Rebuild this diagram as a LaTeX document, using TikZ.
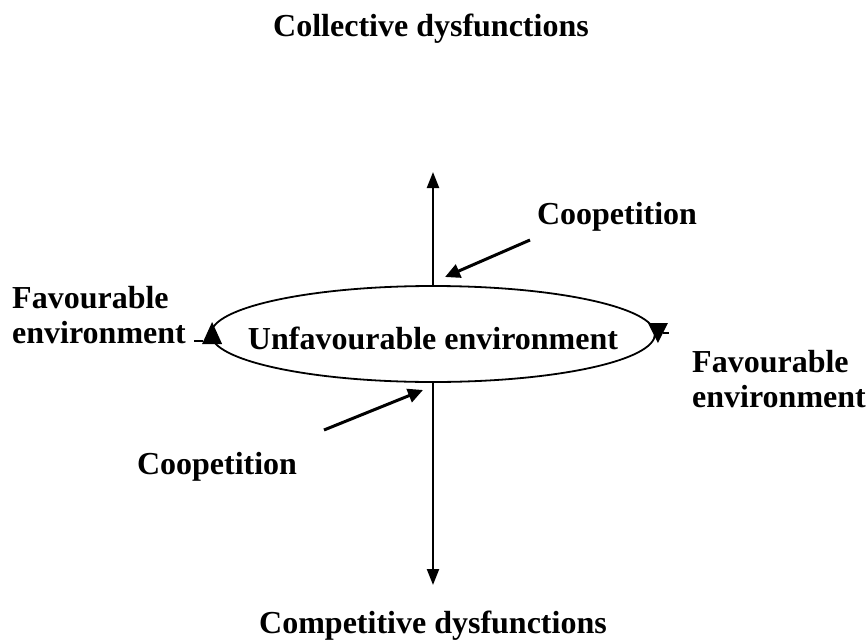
\documentclass[tikz,border=0pt]{standalone}
\usepackage{fontspec}
\setmainfont{Liberation Serif}
\usetikzlibrary{arrows.meta, shapes.geometric, positioning}

\begin{document}
\begin{tikzpicture}[x=1pt, y=-1pt,
    label/.style={font=\fontsize{32}{35}\selectfont\bfseries, inner sep=0pt},
    envellipse/.style={draw, ellipse, line width=1.8pt, minimum width=444pt, minimum height=96pt, inner sep=0pt},
    axisarrow/.style={line width=2.2pt, -{Triangle[length=16pt,width=12pt]}},
    cooparrow/.style={line width=3pt, -{Triangle[length=15pt,width=14pt]}},
    turnhead/.style={fill=black},
    turntick/.style={line width=1.4pt}
]
    \useasboundingbox (0,0) rectangle (867,642);

    \node[envellipse, name=env] at(433,334) {};
    \node[label, anchor=base, name=unfav] at(433,349) {Unfavourable environment};

    \node[label, anchor=base, name=collective] at(431,37) {Collective dysfunctions};
    \node[label, anchor=base, name=competitive] at(433,633) {Competitive dysfunctions};
    \node[label, anchor=base, name=coopup] at(617,224) {Coopetition};
    \node[label, anchor=base, name=coopdown] at(217,474) {Coopetition};
    % base of a two-line node is its last line
    \node[label, anchor=base west, align=left, name=favleft] at(12,343) {Favourable\\environment};
    \node[label, anchor=base west, align=left, name=favright] at(692,407) {Favourable\\environment};

    \coordinate (toptip) at (433,172);
    \coordinate (bottip) at (433,585);
    \coordinate (coopupstart) at (530,240);
    \coordinate (coopuptip) at (445,277);
    \coordinate (coopdownstart) at (324,430);
    \coordinate (coopdowntip) at (423,390);

    \draw[axisarrow] (env.north) -- (toptip);
    \draw[axisarrow] (env.south) -- (bottip);

    \draw[cooparrow] (coopupstart) -- (coopuptip);
    \draw[cooparrow] (coopdownstart) -- (coopdowntip);

    % direction marks on the ellipse
    \fill[turnhead] (env.west) ++(2,-12) -- ++(-10,22) -- ++(20,0) -- cycle;
    \draw[turntick] (env.west) ++(-7,7) -- ++(-9,0);
    \fill[turnhead] (env.east) ++(2,9) -- ++(-10,-20) -- ++(20,0) -- cycle;
    \draw[turntick] (env.east) ++(7,-1) -- ++(6,0);
\end{tikzpicture}
\end{document}
